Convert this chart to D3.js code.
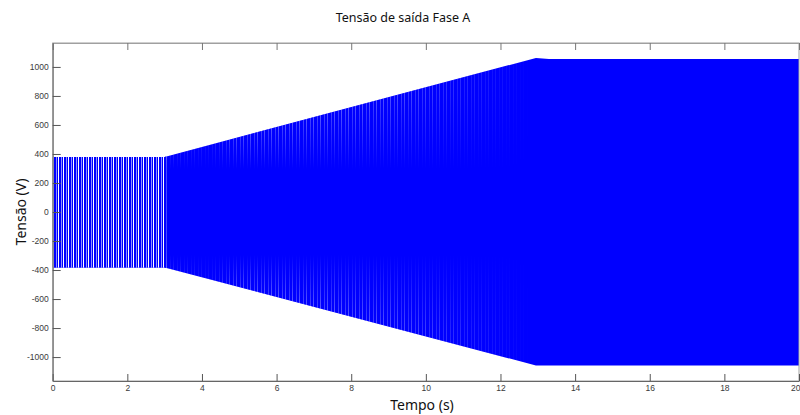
<!DOCTYPE html>
<html>
<head>
<meta charset="utf-8">
<script src="https://cdn.jsdelivr.net/npm/d3@7"></script>
<style>
  body { margin: 0; background: #fff; }
  .tick text { font-family: "Liberation Sans", Arial, sans-serif; font-size: 8.5px; fill: #3a3a3a; }
</style>
</head>
<body>
<svg id="chart"></svg>
<script>
// Dados: envoltória da tensão de saída (V) em função do tempo (s)
const timeKnots = [0, 3, 12.95, 13.3, 20];
const upperEnvelope = [380, 380, 1062, 1055, 1055];
const lowerEnvelope = [-382, -382, -1058, -1058, -1058];
const xTicks = [0, 2, 4, 6, 8, 10, 12, 14, 16, 18, 20];
const yTicks = [-1000, -800, -600, -400, -200, 0, 200, 400, 600, 800, 1000];

const width = 800, height = 415;
const margin = { top: 43, right: 1, bottom: 34, left: 52.7 };

const svg = d3.select("#chart").attr("width", width).attr("height", height);
const defs = svg.append("defs");

const x = d3.scaleLinear().domain([0, 20]).range([margin.left, width - margin.right]);
const y = d3.scaleLinear().domain([-1165, 1165]).range([height - margin.bottom, margin.top]);

const env = timeKnots.map((t, i) => ({ t, hi: upperEnvelope[i], lo: lowerEnvelope[i] }));

// padrões de listras (aliasing da senoide)
const p1 = defs.append("pattern").attr("id", "stripes").attr("patternUnits", "userSpaceOnUse")
    .attr("width", 5).attr("height", 10);
p1.append("rect").attr("width", 5).attr("height", 10).attr("fill", "#0000ff");
p1.append("rect").attr("x", 1).attr("width", 1).attr("height", 10).attr("fill", "#8f8fff");
p1.append("rect").attr("x", 3).attr("width", 1).attr("height", 10).attr("fill", "#ffffff");

const p2 = defs.append("pattern").attr("id", "slits").attr("patternUnits", "userSpaceOnUse")
    .attr("width", 7).attr("height", 10);
p2.append("rect").attr("width", 7).attr("height", 10).attr("fill", "#0000ff");
p2.append("rect").attr("x", 2).attr("width", 1).attr("height", 10).attr("fill", "#a0a0ff");
p2.append("rect").attr("x", 5).attr("width", 1).attr("height", 10).attr("fill", "#d0d0ff");

// máscara horizontal (desvanece até ~12.8 s)
const fadeX = defs.append("linearGradient").attr("id", "fadeX")
    .attr("gradientUnits", "userSpaceOnUse")
    .attr("x1", x(3)).attr("x2", x(12.8)).attr("y1", 0).attr("y2", 0);
[[0, 1], [0.12, 0.3], [0.19, 0.95], [0.45, 0.6], [1, 0]].forEach(([o, a]) =>
  fadeX.append("stop").attr("offset", o).attr("stop-color", "#fff").attr("stop-opacity", a));
defs.append("mask").attr("id", "maskX")
  .append("rect").attr("x", x(3)).attr("y", 0).attr("width", x(12.8) - x(3)).attr("height", height)
    .attr("fill", "url(#fadeX)");

// máscara vertical (listras só perto das bordas)
const fadeY = defs.append("linearGradient").attr("id", "fadeY")
    .attr("gradientUnits", "userSpaceOnUse")
    .attr("x1", 0).attr("x2", 0).attr("y1", y(1060)).attr("y2", y(-1060));
[[0, 1], [0.12, 0.9], [0.36, 0], [0.64, 0], [0.88, 0.9], [1, 1]].forEach(([o, a]) =>
  fadeY.append("stop").attr("offset", o).attr("stop-color", "#fff").attr("stop-opacity", a));
defs.append("mask").attr("id", "maskY")
  .append("rect").attr("x", 0).attr("y", 0).attr("width", width).attr("height", height)
    .attr("fill", "url(#fadeY)");

defs.append("clipPath").attr("id", "early")
  .append("rect").attr("x", x(0)).attr("y", 0).attr("width", x(3.05) - x(0)).attr("height", height);

const area = d3.area().x(d => x(d.t)).y0(d => y(d.lo)).y1(d => y(d.hi));

svg.append("path").datum(env).attr("d", area).attr("fill", "#0000ff");
svg.append("path").datum(env).attr("d", area).attr("fill", "url(#stripes)").attr("clip-path", "url(#early)");

svg.append("g").attr("mask", "url(#maskX)")
  .append("g").attr("mask", "url(#maskY)")
  .append("path").datum(env).attr("d", area).attr("fill", "url(#slits)");

// moldura
svg.append("rect")
    .attr("x", x(0)).attr("y", y(1165))
    .attr("width", x(20) - x(0)).attr("height", y(-1165) - y(1165))
    .attr("fill", "none").attr("stroke", "#a0a0a0");

// eixos
const axisStyle = sel => {
  sel.select(".domain").attr("stroke", "#666");
  sel.selectAll(".tick line").attr("stroke", "#555");
};
const fmt = d => String(d);

svg.append("g")
    .attr("transform", `translate(0,${y(-1165)})`)
    .call(d3.axisBottom(x).tickValues(xTicks).tickSizeInner(-7).tickSizeOuter(0).tickPadding(4).tickFormat(fmt))
    .call(axisStyle)
    .call(sel => sel.selectAll(".tick text").filter(d => d === 20).attr("text-anchor", "end").attr("dx", 1));

svg.append("g")
    .attr("transform", `translate(0,${y(1165)})`)
    .call(d3.axisTop(x).tickValues(xTicks).tickSizeInner(-7).tickSizeOuter(0).tickFormat(""))
    .call(sel => { sel.select(".domain").attr("stroke", "#a0a0a0"); sel.selectAll(".tick line").attr("stroke", "#777"); });

svg.append("g")
    .attr("transform", `translate(${x(0)},0)`)
    .call(d3.axisLeft(y).tickValues(yTicks).tickSizeInner(-8).tickSizeOuter(0).tickPadding(4).tickFormat(fmt))
    .call(axisStyle);

// títulos
svg.append("text")
    .attr("x", 403).attr("y", 22)
    .attr("text-anchor", "middle")
    .style("font-family", "'Noto Sans', sans-serif").style("font-size", "12.5px").attr("fill", "#111")
    .text("Tensão de saída Fase A");

svg.append("text")
    .attr("x", 422).attr("y", 410)
    .attr("text-anchor", "middle")
    .style("font-family", "'Noto Sans', sans-serif").style("font-size", "14px").attr("fill", "#111")
    .text("Tempo (s)");

svg.append("text")
    .attr("transform", "rotate(-90)")
    .attr("x", -212).attr("y", 26)
    .attr("text-anchor", "middle")
    .style("font-family", "'Noto Sans', sans-serif").style("font-size", "14px").attr("fill", "#111")
    .text("Tensão (V)");
</script>
</body>
</html>
